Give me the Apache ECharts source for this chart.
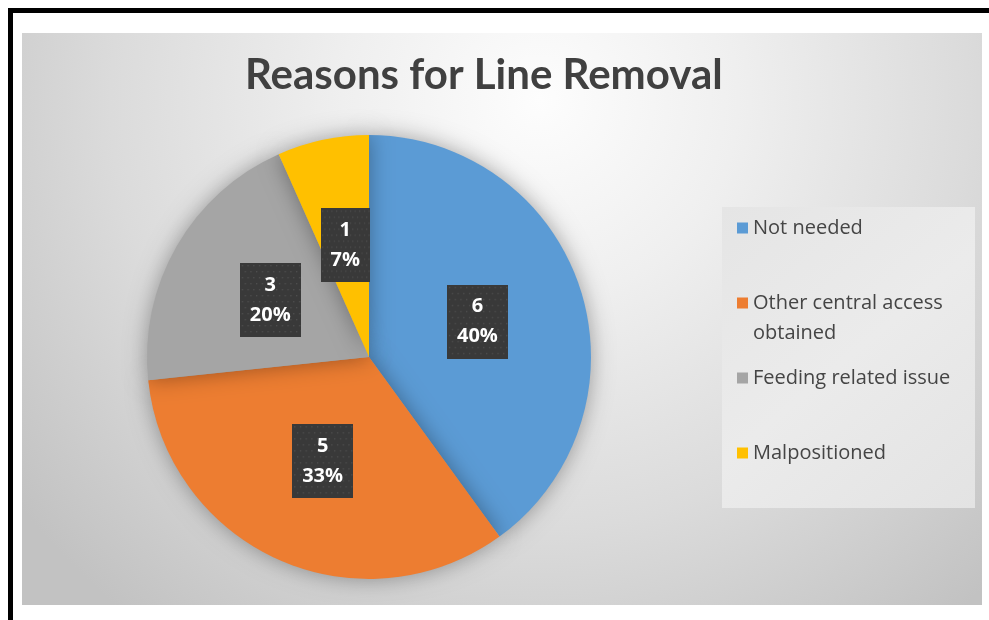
<!DOCTYPE html>
<html>
<head>
<meta charset="utf-8">
<script src="https://cdn.jsdelivr.net/npm/echarts@6/dist/echarts.min.js"></script>
<style>
  html, body { margin: 0; padding: 0; background: #ffffff; }
  #chart { width: 989px; height: 620px; }
</style>
</head>
<body>
<div id="chart"></div>
<script>
// Reasons a line was removed, counts per category
const categories = ['Not needed', 'Other central access obtained', 'Feeding related issue', 'Malpositioned'];
const counts = [6, 5, 3, 1];
const sliceColors = ['#5B9BD5', '#ED7D31', '#A5A5A5', '#FFC000'];
// legend text; the leading blank line keeps the marker beside the first line
const legendLabels = ['Not needed', '\nOther central access\nobtained', 'Feeding related issue', 'Malpositioned'];

// dark dotted tile used behind the data labels
function dottedTile() {
  const c = document.createElement('canvas');
  c.width = 64; c.height = 74;
  const g = c.getContext('2d');
  g.fillStyle = '#393939';
  g.fillRect(0, 0, c.width, c.height);
  g.fillStyle = '#4e4e4e';
  for (let y = 2; y < c.height; y += 6) {
    for (let x = (y % 12 === 2 ? 2 : 5); x < c.width; x += 6) {
      g.fillRect(x, y, 1.4, 1.4);
    }
  }
  return c;
}
const tile = dottedTile();

const chart = echarts.init(document.getElementById('chart'), null, { renderer: 'canvas' });

const legendTops = [213, 258, 363, 438];
const legends = categories.map((name, i) => ({
  data: [{ name: name }],
  orient: 'vertical',
  left: 737,
  top: legendTops[i],
  padding: 0,
  icon: 'rect',
  itemWidth: 11,
  itemHeight: 11,
  formatter: () => legendLabels[i],
  selectedMode: false,
  textStyle: {
    fontFamily: 'Open Sans',
    fontSize: 20,
    color: '#454545',
    lineHeight: 30
  }
}));

chart.setOption({
  animation: false,
  title: {
    text: 'Reasons for Line Removal',
    left: 240,
    top: 49,
    textStyle: {
      fontFamily: 'Lato',
      fontWeight: 'bold',
      fontSize: 42,
      color: '#404040'
    }
  },
  graphic: [
    // frame lines
    { type: 'rect', shape: { x: 8, y: 8, width: 981, height: 5 }, style: { fill: '#000' } },
    { type: 'rect', shape: { x: 8, y: 8, width: 5, height: 612 }, style: { fill: '#000' } },
    // plot backdrop
    {
      type: 'rect', shape: { x: 22, y: 33, width: 960, height: 572 },
      style: {
        fill: new echarts.graphic.RadialGradient(540, 100, 660, [
          { offset: 0, color: '#fdfdfd' },
          { offset: 0.3, color: '#efefef' },
          { offset: 0.65, color: '#dbdbdb' },
          { offset: 1, color: '#c2c2c2' }
        ], true)
      }
    },
    // legend panel
    {
      type: 'rect', shape: { x: 722, y: 207, width: 253, height: 301 },
      style: {
        fill: new echarts.graphic.LinearGradient(0, 0, 1, 1, [
          { offset: 0, color: '#e5e5e5' },
          { offset: 0.5, color: '#ebebeb' },
          { offset: 1, color: '#e3e3e3' }
        ])
      }
    }
  ],
  legend: legends,
  series: [{
    type: 'pie',
    center: [369, 357],
    radius: 222,
    startAngle: 90,
    clockwise: true,
    percentPrecision: 0,
    data: categories.map((name, i) => ({ name: name, value: counts[i] })),
    color: sliceColors,
    itemStyle: {
      shadowBlur: 22,
      shadowColor: 'rgba(0,0,0,0.35)'
    },
    label: {
      show: true,
      position: 'inside',
      formatter: '{c}\n{d}%',
      fontFamily: 'Open Sans',
      fontWeight: 'bold',
      fontSize: 20,
      lineHeight: 30,
      color: '#ffffff',
      backgroundColor: { image: tile },
      padding: [11, 10, 3, 10],
      shadowColor: 'rgba(0,0,0,0.55)',
      shadowBlur: 6,
      shadowOffsetX: 3,
      shadowOffsetY: 3
    },
    labelLine: { show: false },
    emphasis: { disabled: true }
  }]
});
</script>
</body>
</html>
